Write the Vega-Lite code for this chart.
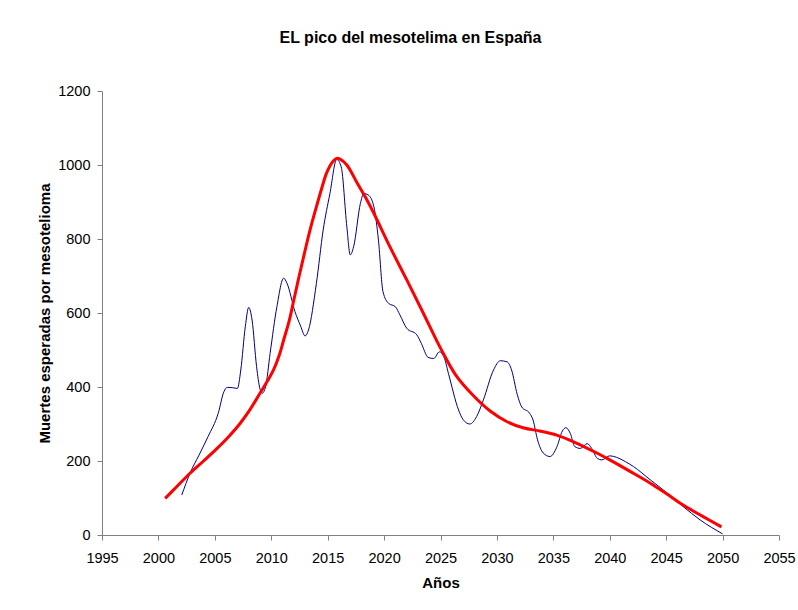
{
  "$schema": "https://vega.github.io/schema/vega-lite/v6.json",
  "width": 677,
  "height": 444,
  "autosize": {"type": "none"},
  "padding": {"left": 102, "top": 91, "right": 19, "bottom": 75},
  "background": "white",
  "title": {"text": "EL pico del mesotelima en España", "font": "Liberation Sans", "fontSize": 16, "fontWeight": "bold", "color": "black", "anchor": "middle", "dx": -30, "offset": 37},
  "data": {"values": [
    {"serie": "datos", "anio": 2002.07, "v": 108},
    {"serie": "datos", "anio": 2002.8, "v": 167},
    {"serie": "datos", "anio": 2003.6, "v": 216},
    {"serie": "datos", "anio": 2004.4, "v": 266},
    {"serie": "datos", "anio": 2005.3, "v": 329},
    {"serie": "datos", "anio": 2005.8, "v": 387},
    {"serie": "datos", "anio": 2006.1, "v": 399},
    {"serie": "datos", "anio": 2006.6, "v": 398},
    {"serie": "datos", "anio": 2007.0, "v": 396},
    {"serie": "datos", "anio": 2007.3, "v": 446},
    {"serie": "datos", "anio": 2007.7, "v": 563},
    {"serie": "datos", "anio": 2008.0, "v": 615},
    {"serie": "datos", "anio": 2008.3, "v": 581},
    {"serie": "datos", "anio": 2008.7, "v": 455},
    {"serie": "datos", "anio": 2009.0, "v": 395},
    {"serie": "datos", "anio": 2009.2, "v": 383},
    {"serie": "datos", "anio": 2009.5, "v": 401},
    {"serie": "datos", "anio": 2009.9, "v": 491},
    {"serie": "datos", "anio": 2010.5, "v": 617},
    {"serie": "datos", "anio": 2011.1, "v": 694},
    {"serie": "datos", "anio": 2011.4, "v": 680},
    {"serie": "datos", "anio": 2012.1, "v": 604},
    {"serie": "datos", "anio": 2012.6, "v": 565},
    {"serie": "datos", "anio": 2013.0, "v": 538},
    {"serie": "datos", "anio": 2013.3, "v": 554},
    {"serie": "datos", "anio": 2014.0, "v": 680},
    {"serie": "datos", "anio": 2014.6, "v": 824},
    {"serie": "datos", "anio": 2015.2, "v": 923},
    {"serie": "datos", "anio": 2015.8, "v": 1015},
    {"serie": "datos", "anio": 2016.2, "v": 995},
    {"serie": "datos", "anio": 2016.7, "v": 833},
    {"serie": "datos", "anio": 2017.0, "v": 757},
    {"serie": "datos", "anio": 2017.3, "v": 779},
    {"serie": "datos", "anio": 2017.9, "v": 896},
    {"serie": "datos", "anio": 2018.2, "v": 923},
    {"serie": "datos", "anio": 2018.6, "v": 919},
    {"serie": "datos", "anio": 2019.1, "v": 887},
    {"serie": "datos", "anio": 2019.5, "v": 797},
    {"serie": "datos", "anio": 2019.9, "v": 658},
    {"serie": "datos", "anio": 2020.4, "v": 626},
    {"serie": "datos", "anio": 2021.0, "v": 617},
    {"serie": "datos", "anio": 2021.4, "v": 595},
    {"serie": "datos", "anio": 2022.0, "v": 559},
    {"serie": "datos", "anio": 2022.9, "v": 541},
    {"serie": "datos", "anio": 2023.3, "v": 518},
    {"serie": "datos", "anio": 2023.9, "v": 480},
    {"serie": "datos", "anio": 2024.4, "v": 477},
    {"serie": "datos", "anio": 2024.9, "v": 495},
    {"serie": "datos", "anio": 2025.3, "v": 482},
    {"serie": "datos", "anio": 2025.7, "v": 437},
    {"serie": "datos", "anio": 2026.6, "v": 338},
    {"serie": "datos", "anio": 2027.0, "v": 312},
    {"serie": "datos", "anio": 2027.6, "v": 300},
    {"serie": "datos", "anio": 2028.2, "v": 320},
    {"serie": "datos", "anio": 2028.8, "v": 365},
    {"serie": "datos", "anio": 2029.7, "v": 446},
    {"serie": "datos", "anio": 2030.3, "v": 471},
    {"serie": "datos", "anio": 2030.9, "v": 468},
    {"serie": "datos", "anio": 2031.3, "v": 446},
    {"serie": "datos", "anio": 2031.8, "v": 380},
    {"serie": "datos", "anio": 2032.2, "v": 346},
    {"serie": "datos", "anio": 2032.9, "v": 329},
    {"serie": "datos", "anio": 2033.2, "v": 311},
    {"serie": "datos", "anio": 2033.6, "v": 257},
    {"serie": "datos", "anio": 2034.1, "v": 222},
    {"serie": "datos", "anio": 2034.7, "v": 212},
    {"serie": "datos", "anio": 2035.3, "v": 237},
    {"serie": "datos", "anio": 2035.8, "v": 281},
    {"serie": "datos", "anio": 2036.1, "v": 290},
    {"serie": "datos", "anio": 2036.5, "v": 275},
    {"serie": "datos", "anio": 2036.9, "v": 239},
    {"serie": "datos", "anio": 2037.4, "v": 234},
    {"serie": "datos", "anio": 2038.0, "v": 247},
    {"serie": "datos", "anio": 2038.4, "v": 234},
    {"serie": "datos", "anio": 2038.9, "v": 207},
    {"serie": "datos", "anio": 2039.3, "v": 203},
    {"serie": "datos", "anio": 2040.0, "v": 214},
    {"serie": "datos", "anio": 2040.6, "v": 210},
    {"serie": "datos", "anio": 2041.4, "v": 198},
    {"serie": "datos", "anio": 2042.1, "v": 185},
    {"serie": "datos", "anio": 2043.6, "v": 149},
    {"serie": "datos", "anio": 2045.1, "v": 113},
    {"serie": "datos", "anio": 2046.5, "v": 77},
    {"serie": "datos", "anio": 2048.0, "v": 41},
    {"serie": "datos", "anio": 2050.0, "v": 3},
    {"serie": "ajuste", "anio": 2000.6, "v": 99},
    {"serie": "ajuste", "anio": 2001.7, "v": 133},
    {"serie": "ajuste", "anio": 2002.8, "v": 167},
    {"serie": "ajuste", "anio": 2004.0, "v": 200},
    {"serie": "ajuste", "anio": 2005.2, "v": 234},
    {"serie": "ajuste", "anio": 2006.2, "v": 265},
    {"serie": "ajuste", "anio": 2007.2, "v": 300},
    {"serie": "ajuste", "anio": 2008.1, "v": 338},
    {"serie": "ajuste", "anio": 2009.0, "v": 383},
    {"serie": "ajuste", "anio": 2009.7, "v": 418},
    {"serie": "ajuste", "anio": 2010.2, "v": 446},
    {"serie": "ajuste", "anio": 2010.7, "v": 485},
    {"serie": "ajuste", "anio": 2011.1, "v": 527},
    {"serie": "ajuste", "anio": 2011.6, "v": 580},
    {"serie": "ajuste", "anio": 2012.0, "v": 635},
    {"serie": "ajuste", "anio": 2012.4, "v": 690},
    {"serie": "ajuste", "anio": 2012.8, "v": 743},
    {"serie": "ajuste", "anio": 2013.4, "v": 820},
    {"serie": "ajuste", "anio": 2014.0, "v": 887},
    {"serie": "ajuste", "anio": 2014.5, "v": 940},
    {"serie": "ajuste", "anio": 2014.9, "v": 978},
    {"serie": "ajuste", "anio": 2015.4, "v": 1007},
    {"serie": "ajuste", "anio": 2015.8, "v": 1018},
    {"serie": "ajuste", "anio": 2016.1, "v": 1016},
    {"serie": "ajuste", "anio": 2016.7, "v": 1000},
    {"serie": "ajuste", "anio": 2017.6, "v": 952},
    {"serie": "ajuste", "anio": 2018.4, "v": 910},
    {"serie": "ajuste", "anio": 2019.1, "v": 869},
    {"serie": "ajuste", "anio": 2020.5, "v": 780},
    {"serie": "ajuste", "anio": 2022.0, "v": 690},
    {"serie": "ajuste", "anio": 2023.5, "v": 598},
    {"serie": "ajuste", "anio": 2025.0, "v": 505},
    {"serie": "ajuste", "anio": 2026.4, "v": 430},
    {"serie": "ajuste", "anio": 2027.9, "v": 377},
    {"serie": "ajuste", "anio": 2029.4, "v": 335},
    {"serie": "ajuste", "anio": 2030.9, "v": 306},
    {"serie": "ajuste", "anio": 2032.4, "v": 289},
    {"serie": "ajuste", "anio": 2033.8, "v": 281},
    {"serie": "ajuste", "anio": 2035.3, "v": 270},
    {"serie": "ajuste", "anio": 2036.8, "v": 252},
    {"serie": "ajuste", "anio": 2038.9, "v": 221},
    {"serie": "ajuste", "anio": 2040.0, "v": 203},
    {"serie": "ajuste", "anio": 2041.8, "v": 172},
    {"serie": "ajuste", "anio": 2043.6, "v": 140},
    {"serie": "ajuste", "anio": 2045.0, "v": 112},
    {"serie": "ajuste", "anio": 2046.5, "v": 81},
    {"serie": "ajuste", "anio": 2048.2, "v": 51},
    {"serie": "ajuste", "anio": 2049.9, "v": 22}
  ]},
  "encoding": {
    "x": {"field": "anio", "type": "quantitative",
      "scale": {"domain": [1995, 2055], "nice": false, "zero": false},
      "axis": {"title": "Años", "values": [1995, 2000, 2005, 2010, 2015, 2020, 2025, 2030, 2035, 2040, 2045, 2050, 2055], "format": "d", "grid": false, "labelFont": "Liberation Sans", "labelFontSize": 14.5, "labelColor": "black", "labelPadding": 11, "labelFlush": false, "titleFont": "Liberation Sans", "titleFontSize": 15, "titleFontWeight": "bold", "titleColor": "black", "titlePadding": 11, "domainColor": "#808080", "tickColor": "#808080", "tickSize": 5}},
    "y": {"field": "v", "type": "quantitative",
      "scale": {"domain": [0, 1200], "nice": false},
      "axis": {"title": "Muertes esperadas por mesotelioma", "values": [0, 200, 400, 600, 800, 1000, 1200], "format": "d", "grid": false, "labelFont": "Liberation Sans", "labelFontSize": 14.5, "labelColor": "black", "labelPadding": 7, "labelFlush": false, "titleFont": "Liberation Sans", "titleFontSize": 15, "titleFontWeight": "bold", "titleColor": "black", "titlePadding": 5, "domainColor": "#808080", "tickColor": "#808080", "tickSize": 5}}
  },
  "layer": [
    {"transform": [{"filter": "datum.serie === 'datos'"}], "mark": {"type": "line", "interpolate": "monotone", "color": "#000080", "strokeWidth": 1}},
    {"transform": [{"filter": "datum.serie === 'ajuste'"}], "mark": {"type": "line", "interpolate": "catmull-rom", "color": "#FF0000", "strokeWidth": 3}}
  ],
  "config": {"view": {"stroke": null}}
}
